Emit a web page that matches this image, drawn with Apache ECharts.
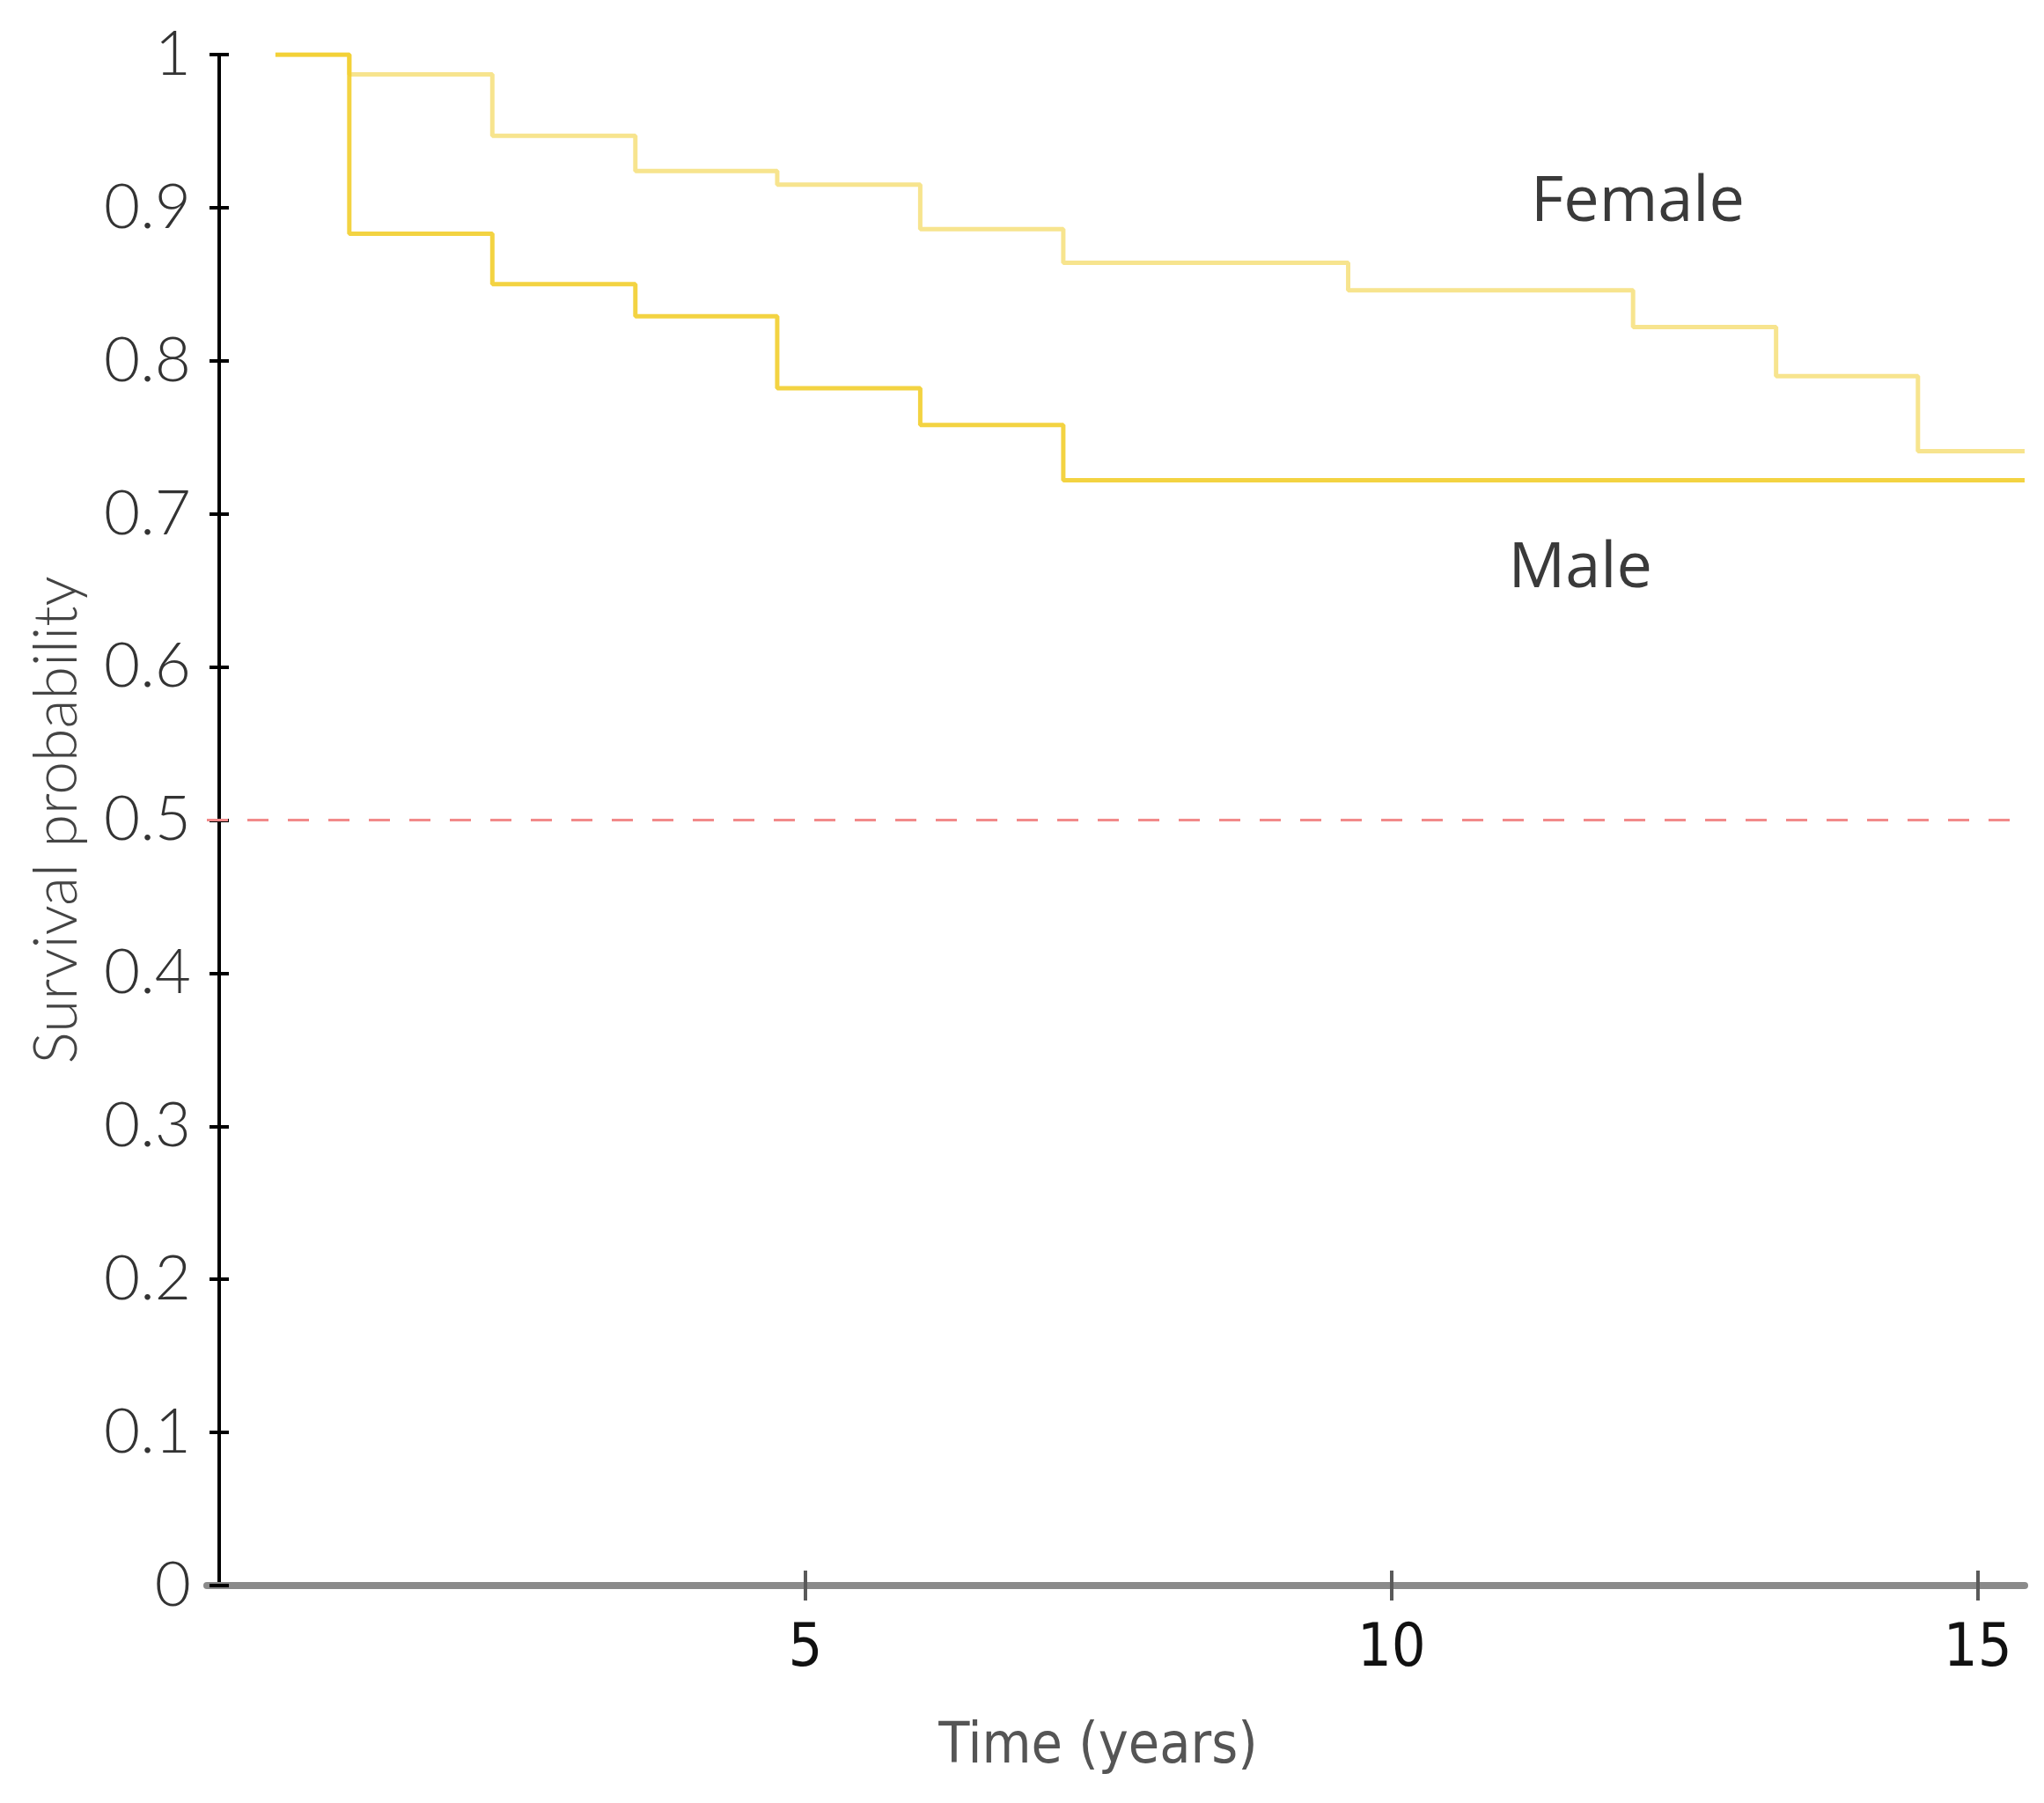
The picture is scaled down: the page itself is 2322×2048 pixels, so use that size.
<!DOCTYPE html>
<html>
<head>
<meta charset="utf-8">
<script src="https://cdn.jsdelivr.net/npm/echarts@6/dist/echarts.min.js"></script>
<style>
html,body{margin:0;padding:0;background:#fff;}
#chart{width:2322px;height:2048px;}
</style>
</head>
<body>
<div id="chart"></div>
<script>
// Kaplan-Meier step data (time in years, survival probability)
const femaleTimes = [0.48, 1.11, 2.33, 3.55, 4.76, 5.98, 7.20, 9.63, 12.06, 13.28, 14.49, 15.40];
const femaleSurv  = [1.000, 0.987, 0.947, 0.924, 0.915, 0.886, 0.864, 0.846, 0.822, 0.790, 0.741, 0.741];
const maleTimes   = [0.48, 1.11, 2.33, 3.55, 4.76, 5.98, 7.20, 15.40];
const maleSurv    = [1.000, 0.883, 0.850, 0.829, 0.782, 0.758, 0.722, 0.722];
const xTickValues = [5, 10, 15];
const yTickLabels = ['0', '0.1', '0.2', '0.3', '0.4', '0.5', '0.6', '0.7', '0.8', '0.9', '1'];
const medianLine = 0.5;
const seriesNames = ['Female', 'Male'];
const femaleLabelAt = [12.10, 0.903];
const maleLabelAt = [11.61, 0.664];

const pair = (xs, ys) => xs.map((x, i) => [x, ys[i]]);

const chart = echarts.init(document.getElementById('chart'));
const thinFont = "Lato, 'Noto Sans', sans-serif";
const narrowFont = "'Liberation Sans Narrow', 'DejaVu Sans Condensed', 'Roboto Condensed', sans-serif";

function curveLabel(text, coord) {
  return {
    symbol: 'circle', symbolSize: 0,
    data: [{ coord: coord, value: text }],
    label: {
      show: true, position: 'inside', formatter: text,
      fontFamily: "'Open Sans', 'Noto Sans', sans-serif", fontSize: 72, color: '#3a3a3a'
    }
  };
}

chart.setOption({
  backgroundColor: '#ffffff',
  animation: false,
  grid: { left: 235, right: 22, top: 62, bottom: 247, containLabel: false },
  xAxis: [{
    type: 'value', min: -0.105, max: 15.40,
    name: 'Time (years)', nameLocation: 'middle', nameGap: 152,
    nameTextStyle: { fontFamily: narrowFont, fontSize: 64, color: '#555555', padding: [0, 40, 0, 0] },
    axisLine: { show: true, onZero: false, lineStyle: { color: '#8a8a8a', width: 8 } },
    axisTick: { show: true, customValues: xTickValues, length: 17, lineStyle: { color: '#5a5a5a', width: 4 } },
    axisLabel: { show: true, customValues: xTickValues, margin: 39,
      fontFamily: narrowFont, fontSize: 68, color: '#111111' },
    splitLine: { show: false }
  }, {
    type: 'value', min: -0.105, max: 15.40, position: 'bottom',
    axisLine: { show: false },
    axisTick: { show: true, inside: true, customValues: xTickValues, length: 17, lineStyle: { color: '#5a5a5a', width: 4 } },
    axisLabel: { show: false }, splitLine: { show: false }
  }],
  yAxis: [{
    type: 'value', min: 0, max: 1, interval: 0.1,
    name: 'Survival probability', nameLocation: 'middle', nameGap: 136,
    nameTextStyle: { fontFamily: thinFont, fontWeight: 300, fontSize: 68, color: '#444' },
    axisLine: { show: true, lineStyle: { color: '#000', width: 4 } },
    axisTick: { show: true, length: 11, lineStyle: { color: '#000', width: 4 } },
    axisLabel: { margin: 18, fontFamily: thinFont, fontWeight: 300, fontSize: 71, color: '#333',
      formatter: (v) => yTickLabels[Math.round(v * 10)] },
    splitLine: { show: false }
  }, {
    type: 'value', min: 0, max: 1, interval: 0.1, position: 'left',
    axisLine: { show: false },
    axisTick: { show: true, inside: true, length: 11, lineStyle: { color: '#000', width: 4 } },
    axisLabel: { show: false }, splitLine: { show: false }
  }],
  series: [{
    name: seriesNames[0], type: 'line', step: 'end', symbol: 'none',
    data: pair(femaleTimes, femaleSurv),
    lineStyle: { color: 'rgba(245,220,110,0.78)', width: 5 },
    markPoint: curveLabel(seriesNames[0], femaleLabelAt),
    markLine: {
      silent: true, symbol: 'none',
      data: [{ yAxis: medianLine }],
      label: { show: false },
      lineStyle: { color: '#f28a8a', width: 3, type: [24, 22] }
    },
    z: 3
  }, {
    name: seriesNames[1], type: 'line', step: 'end', symbol: 'none',
    data: pair(maleTimes, maleSurv),
    lineStyle: { color: 'rgba(242,206,45,0.9)', width: 5 },
    markPoint: curveLabel(seriesNames[1], maleLabelAt),
    z: 4
  }]
});
</script>
</body>
</html>
